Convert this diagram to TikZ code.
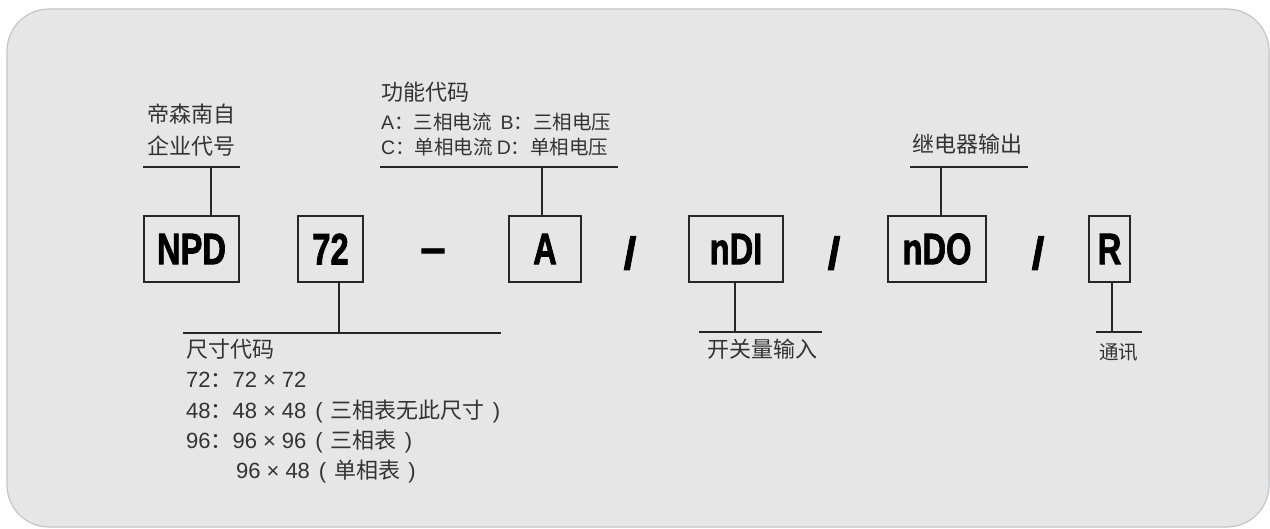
\documentclass[tikz,border=0pt]{standalone}
\usepackage{fontspec}
\usepackage{graphicx}
\setmainfont{Liberation Sans}
\newfontfamily\heavy[FakeBold=2]{Liberation Sans}
\newfontfamily\cjk{Noto Sans CJK SC}
\definecolor{panel}{HTML}{E6E6E6}
\definecolor{panelborder}{HTML}{C2C6CA}
\definecolor{linec}{HTML}{262626}
\definecolor{labc}{HTML}{333333}
\newcommand\sq[1]{\raisebox{-2.5pt}{\scalebox{0.76}[1.02]{#1}}}
\tikzset{
  codebox/.style={draw=linec, line width=1.8pt, inner sep=0pt, minimum height=66pt,
    font=\heavy\fontsize{43}{43}\selectfont\bfseries, text=black},
  sep/.style={inner sep=0pt, anchor=base, font=\heavy\fontsize{45}{45}\selectfont\bfseries, text=black},
  lbl/.style={inner sep=0pt, anchor=base west, text=labc, font=\cjk\fontsize{22}{22}\selectfont},
  lbls/.style={lbl, font=\cjk\fontsize{19.5}{19.5}\selectfont},
  lbln/.style={inner sep=0pt, anchor=base west, text=labc, font=\fontsize{22}{22}\selectfont},
  bar/.style={draw=linec, line width=1.8pt},
}
\begin{document}
\begin{tikzpicture}[x=1pt,y=-1pt]
\useasboundingbox (0,0) rectangle (1270,529);
\fill[white] (0,0) rectangle (1270,529);
\draw[line width=1.2pt, draw=panelborder, fill=panel, rounded corners=42pt] (7,9) rectangle (1269,527);

% code boxes
\node[codebox, minimum width=95pt] (npd) at (191.5,249) {\sq{NPD}};
\node[codebox, minimum width=65pt] (n72) at (330.5,249) {\sq{72}};
\node[codebox, minimum width=72pt] (na) at (545,249) {\sq{A}};
\node[codebox, minimum width=94pt] (ndi) at (736,249) {\sq{nDI}};
\node[codebox, minimum width=98pt] (ndo) at (937,249) {\sq{nDO}\hspace{16pt}};
\node[codebox, minimum width=41pt] (nr) at (1109.5,249) {\sq{R}};

% separators
\node[sep] (d1) at (433,263) {–};
\node[sep] (s1) at (630,269) {/};
\node[sep] (s2) at (834,269) {/};
\node[sep] (s3) at (1038,269) {/};

% company code label
\node[lbl] (l1a) at (147,123) {帝森南自};
\node[lbl] (l1b) at (147,155) {企业代号};
\coordinate (b1l) at (143,167);
\coordinate (b1r) at (240,167);
\coordinate (b1) at (211,167);
\draw[bar] (b1l) -- (b1r);
\draw[bar] (b1) -- (b1 |- npd.north);

% function code label
\node[lbl] (l2a) at (381,101) {功能代码};
\node[lbls] (l2b) at (381,130) {{\fontspec{Liberation Sans}A}：三相电流\hspace{9pt}{\fontspec{Liberation Sans}B}：三相电压};
\node[lbls] (l2c) at (381,155) {{\fontspec{Liberation Sans}C}：单相电流\hspace{4pt}{\fontspec{Liberation Sans}D}：单相电压};
\coordinate (b2l) at (380,167);
\coordinate (b2r) at (618,167);
\coordinate (b2) at (542,167);
\draw[bar] (b2l) -- (b2r);
\draw[bar] (b2) -- (b2 |- na.north);

% relay output label
\node[lbl] (l3) at (912,153) {继电器输出};
\coordinate (b3l) at (910,167);
\coordinate (b3r) at (1028,167);
\coordinate (b3) at (941,167);
\draw[bar] (b3l) -- (b3r);
\draw[bar] (b3) -- (b3 |- ndo.north);

% size code label
\coordinate (b4l) at (183,333);
\coordinate (b4r) at (501,333);
\coordinate (b4) at (339,333);
\draw[bar] (b4l) -- (b4r);
\draw[bar] (b4) -- (b4 |- n72.south);
\node[lbl] (l4a) at (186,358) {尺寸代码};
\node[lbln] (l4b) at (186,388) {72{\cjk ：}72\hspace{6pt}×\hspace{6pt}72};
\node[lbln] (l4c) at (186,418) {48{\cjk ：}48\hspace{6pt}×\hspace{6pt}48\hspace{9pt}(\hspace{8pt}{\cjk 三相表无此尺寸}\hspace{8pt})};
\node[lbln] (l4d) at (186,448) {96{\cjk ：}96\hspace{6pt}×\hspace{6pt}96\hspace{9pt}(\hspace{8pt}{\cjk 三相表}\hspace{8pt})};
\node[lbln] (l4e) at (236,478) {96\hspace{6pt}×\hspace{6pt}48\hspace{9pt}(\hspace{8pt}{\cjk 单相表}\hspace{8pt})};

% switch input label
\coordinate (b5l) at (699,332);
\coordinate (b5r) at (822,332);
\coordinate (b5) at (735,332);
\draw[bar] (b5l) -- (b5r);
\draw[bar] (b5) -- (b5 |- ndi.south);
\node[lbl] (l5) at (707,358) {开关量输入};

% communication label
\coordinate (b6l) at (1096,332);
\coordinate (b6r) at (1142,332);
\coordinate (b6) at (1112,332);
\draw[bar] (b6l) -- (b6r);
\draw[bar] (b6) -- (b6 |- nr.south);
\node[lbls] (l6) at (1099,360) {通讯};
\end{tikzpicture}
\end{document}
